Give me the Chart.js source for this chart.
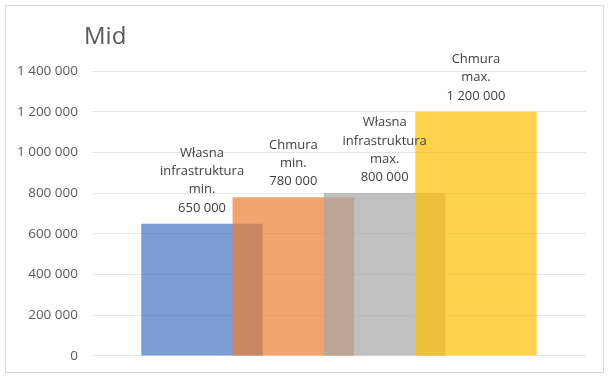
<!DOCTYPE html>
<html>
<head>
<meta charset="utf-8">
<script src="https://cdn.jsdelivr.net/npm/chart.js@4/dist/chart.umd.min.js"></script>
<style>
html,body{margin:0;padding:0;background:#fff;}
#wrap{position:relative;width:608px;height:378px;}
</style>
</head>
<body>
<div id="wrap"><canvas id="c" width="608" height="378"></canvas></div>
<script>
const title = "Mid";
const categories = [
  ["Własna", "infrastruktura", "min."],
  ["Chmura", "min."],
  ["Własna", "infrastruktura", "max."],
  ["Chmura", "max."]
];
const values = [650000, 780000, 800000, 1200000];
const colors = ["rgba(68,114,196,0.7)", "rgba(237,125,49,0.7)", "rgba(165,165,165,0.7)", "rgba(255,192,0,0.7)"];
const yTicks = [0, 200000, 400000, 600000, 800000, 1000000, 1200000, 1400000];

const fmt = v => String(v).replace(/\B(?=(\d{3})+(?!\d))/g, " ");
const FONT = "'Open Sans', 'DejaVu Sans', sans-serif";

const extras = {
  id: "extras",
  beforeDraw(chart) {
    const ctx = chart.ctx;
    ctx.save();
    ctx.fillStyle = "#fff";
    ctx.fillRect(0, 0, chart.width, chart.height);
    ctx.strokeStyle = "#D9D9D9";
    ctx.lineWidth = 1;
    ctx.strokeRect(5.5, 5.5, 598, 367);
    ctx.restore();
  },
  afterDatasetsDraw(chart) {
    const ctx = chart.ctx;
    const meta = chart.getDatasetMeta(0);
    ctx.save();
    ctx.font = "13px " + FONT;
    ctx.fillStyle = "#404040";
    ctx.textAlign = "center";
    ctx.textBaseline = "middle";
    meta.data.forEach((bar, i) => {
      const lines = categories[i].concat([fmt(values[i])]);
      let y = bar.y - 15.7;
      for (let k = lines.length - 1; k >= 0; k--) {
        ctx.fillText(lines[k], bar.x, y);
        y -= 18.3;
      }
    });
    ctx.font = "24px " + FONT;
    ctx.fillStyle = "#595959";
    ctx.textAlign = "left";
    ctx.fillText(title, chart.chartArea.left - 8, 37);
    ctx.restore();
  }
};

new Chart(document.getElementById("c"), {
  type: "bar",
  data: {
    datasets: [{
      data: values.map((v, i) => ({ x: i + 1, y: v })),
      backgroundColor: colors,
      borderWidth: 0,
      barPercentage: 1.33,
      categoryPercentage: 1
    }]
  },
  options: {
    responsive: false,
    animation: false,
    devicePixelRatio: 1,
    layout: { padding: { left: 0, right: 22, top: 71, bottom: 20 } },
    plugins: { legend: { display: false }, tooltip: { enabled: false }, title: { display: false } },
    scales: {
      x: {
        type: "linear",
        display: false,
        offset: false,
        min: -0.2045,
        max: 5.2045
      },
      y: {
        min: 0,
        max: 1400000,
        afterBuildTicks(scale) { scale.ticks = yTicks.map(v => ({ value: v })); },
        afterFit(scale) { scale.width = 92; },
        border: { display: false },
        grid: { color: "#E6E6E6", drawTicks: false, tickLength: 0 },
        ticks: {
          padding: 14,
          color: "#595959",
          font: { family: FONT, size: 13.5 },
          callback: v => fmt(v)
        }
      }
    }
  },
  plugins: [extras]
});
</script>
</body>
</html>
